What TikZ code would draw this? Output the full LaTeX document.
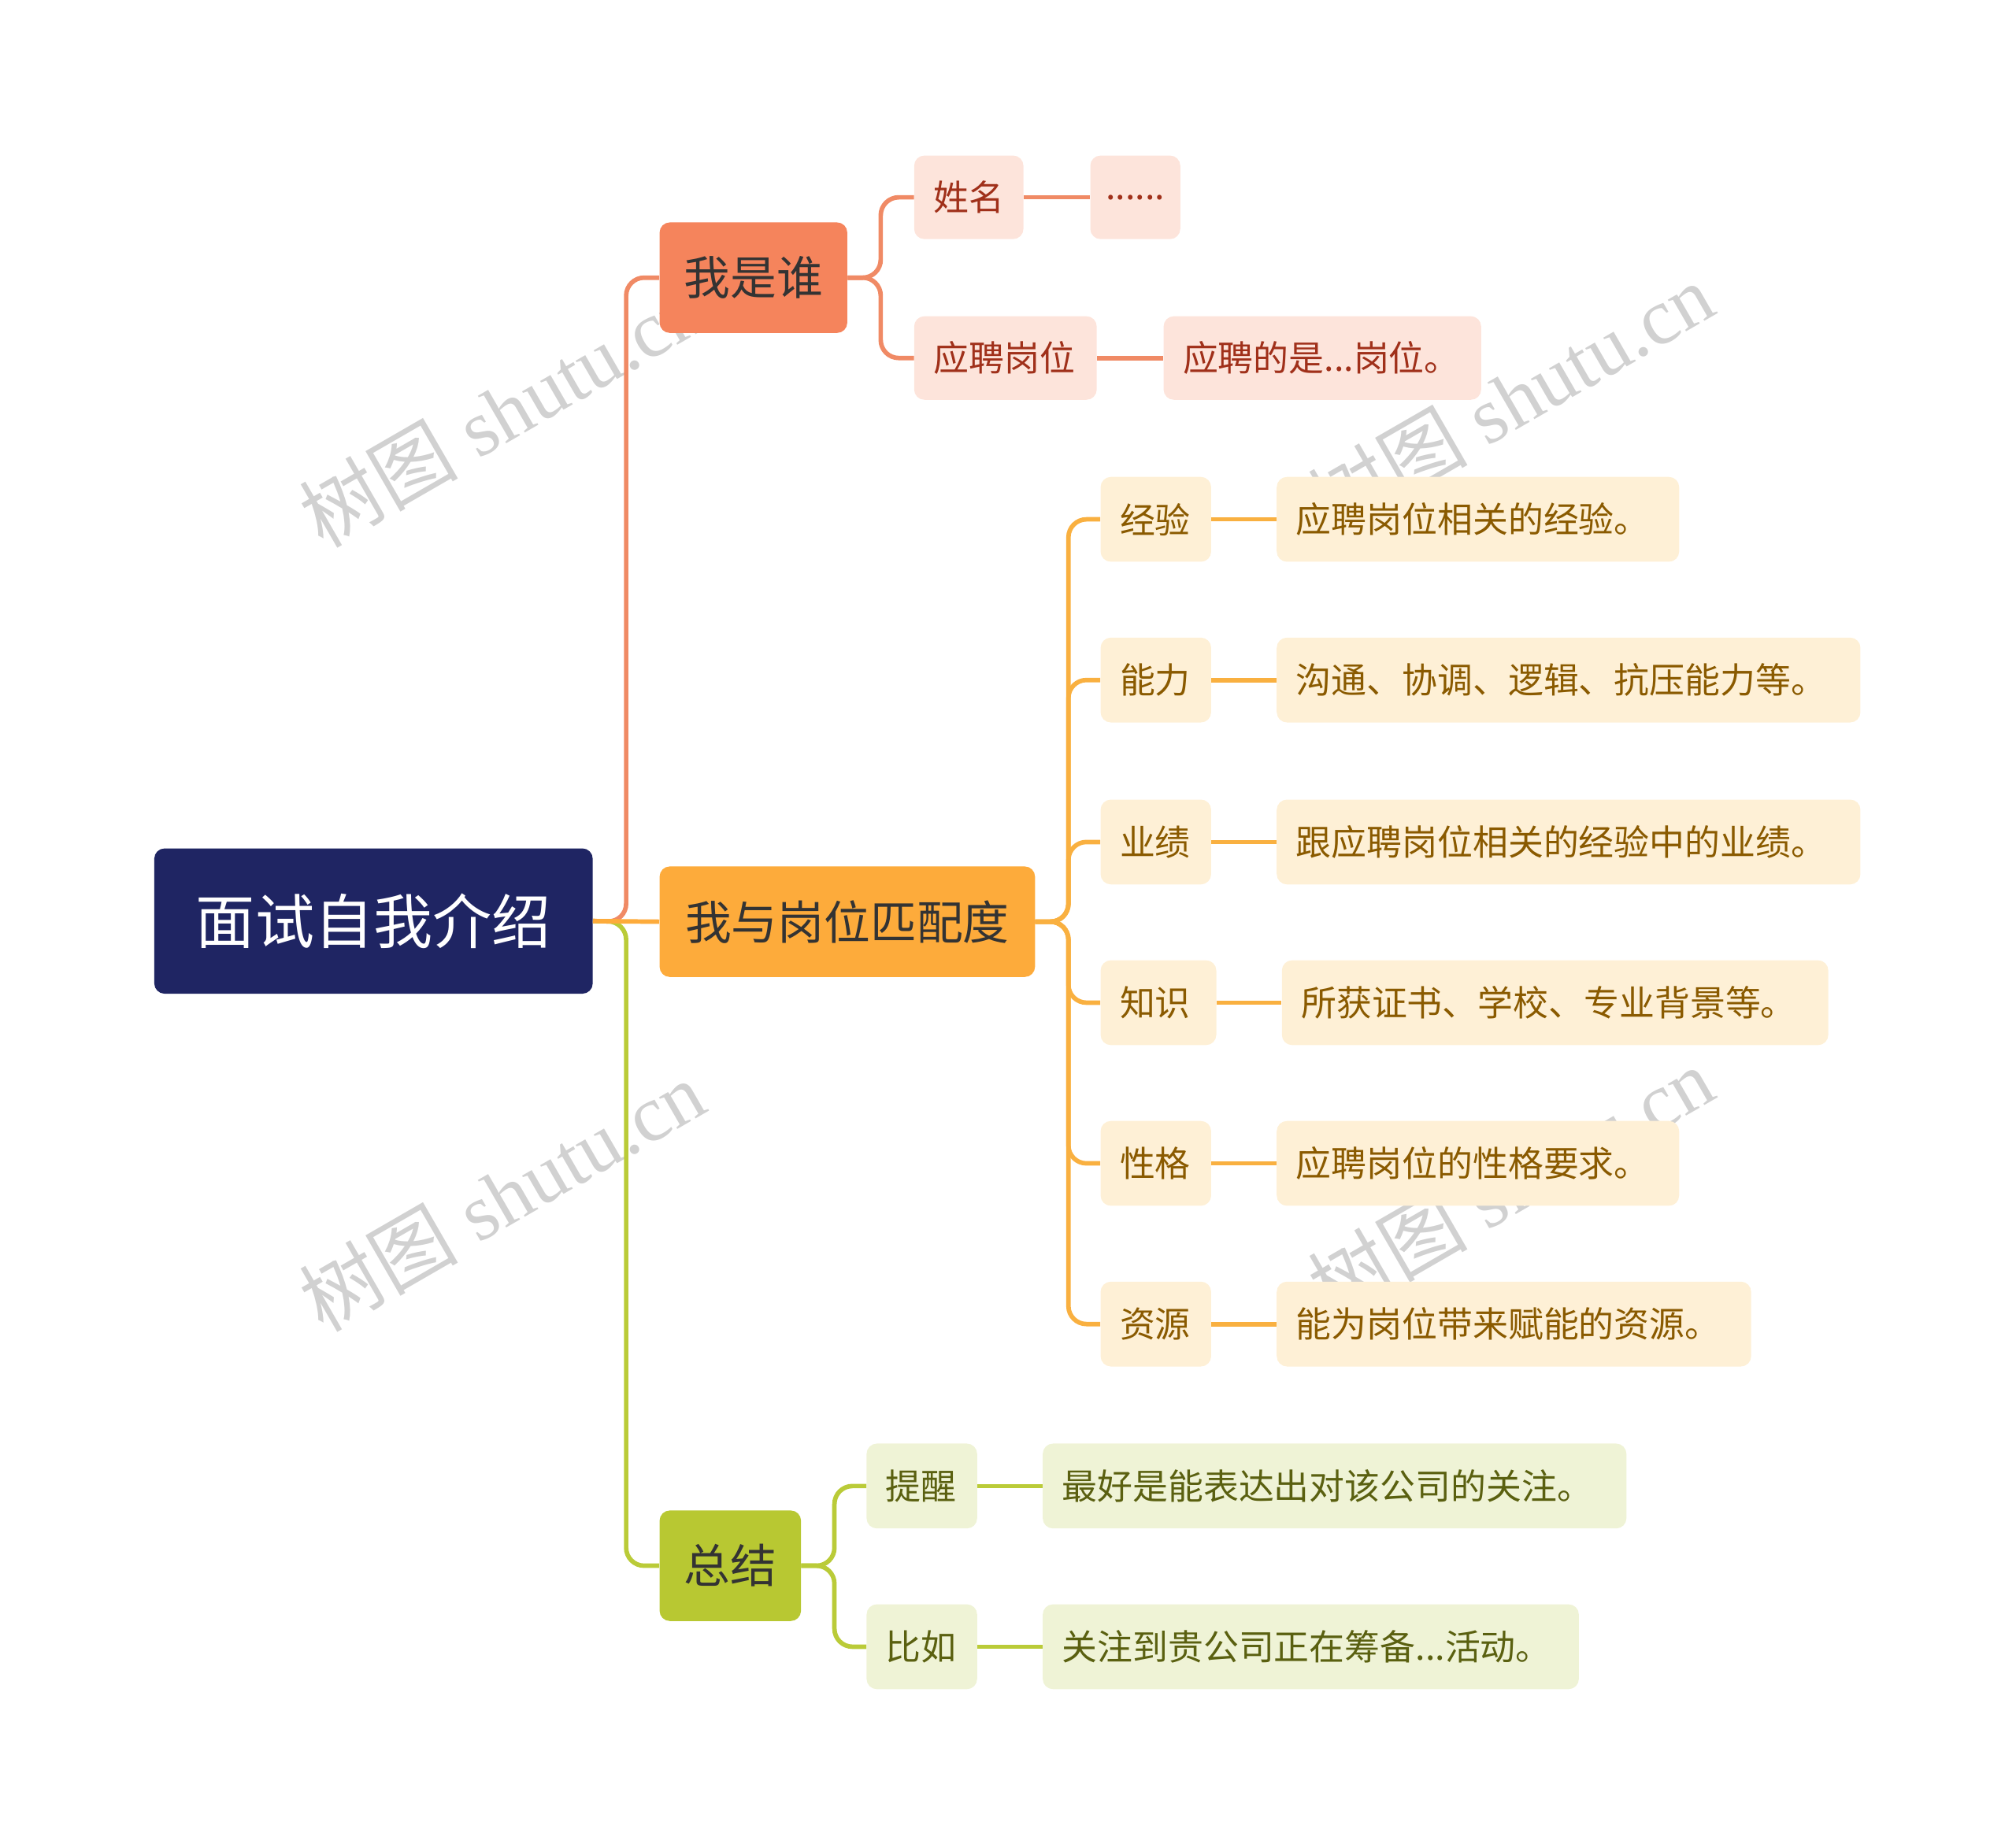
\documentclass[tikz,border=0pt]{standalone}
\usepackage{fontspec}
\setmainfont{Noto Sans CJK SC}
\newfontfamily\wmfont{Liberation Serif}
\newfontfamily\cjk{Noto Sans CJK SC}
\definecolor{rootc}{HTML}{1F2563}
\definecolor{oA}{HTML}{F5845C}\definecolor{oB}{HTML}{FDE4DB}\definecolor{oT}{HTML}{A0301A}\definecolor{oL}{HTML}{F08A65}
\definecolor{yA}{HTML}{FDAB3B}\definecolor{yB}{HTML}{FEF0D6}\definecolor{yT}{HTML}{8A5A00}\definecolor{yL}{HTML}{F9B040}
\definecolor{gA}{HTML}{B8C832}\definecolor{gB}{HTML}{EFF3D6}\definecolor{gT}{HTML}{5A6010}\definecolor{gL}{HTML}{BACB38}
\newcommand\bx[7]{\node[#6,minimum width={#4pt-#2pt},minimum height={#5pt-#3pt}] (#1) at ({(#2+#4)/2},{(#3+#5)/2}) {#7};}
\newcommand\bl[7]{\node[#6,minimum width={#4pt-#2pt},minimum height={#5pt-#3pt},text width={#4pt-#2pt-30pt},align=left] (#1) at ({(#2+#4)/2},{(#3+#5)/2}) {#7};}
\begin{document}
\begin{tikzpicture}[x=1pt,y=-1pt,
  base/.style={rounded corners=8pt,inner sep=0pt,draw=none},
  rootbox/.style={base,fill=rootc,text=white,font=\fontsize{46}{52}\selectfont},
  lo/.style={base,fill=oA,text=black!80,font=\fontsize{36}{42}\selectfont},
  ly/.style={base,fill=yA,text=black!80,font=\fontsize{36}{42}\selectfont},
  lg/.style={base,fill=gA,text=black!80,font=\fontsize{36}{42}\selectfont},
  so/.style={base,fill=oB,text=oT,font=\fontsize{27.5}{32}\selectfont},
  sy/.style={base,fill=yB,text=yT,font=\fontsize{27.5}{32}\selectfont},
  sg/.style={base,fill=gB,text=gT,font=\fontsize{27.5}{32}\selectfont},
  con/.style={line width=3.5pt,rounded corners=14pt},
  wm/.style={text=black!18,rotate=30,font=\wmfont\fontsize{62}{64}\selectfont}]
\useasboundingbox (0,0) rectangle (1568,1434);
\foreach \p in {(390,320),(1175,310),(390,930),(1175,920)}
  \node[wm] at \p {{\cjk 树图} shutu.cn};
\bx{root}{120}{660}{461}{773}{rootbox}{面试自我介绍}
\bx{a}{513}{173}{659}{259}{lo}{我是谁}
\bx{b}{513}{674}{805}{760}{ly}{我与岗位匹配度}
\bx{c}{513}{1175}{623}{1261}{lg}{总结}
\draw[con,draw=oL] (root.east) -- (487,717) |- (a.west);
\draw[con,draw=gL] (root.east) -- (487,717) |- (c.west);
\draw[con,draw=yA] (root.east) -- (b.west);
% a children
\bl{a1}{711}{121}{796}{186}{so}{姓名}
\bx{a1d}{848}{121}{918}{186}{so}{......}
\bl{a2}{711}{246}{853}{311}{so}{应聘岗位}
\bl{a2d}{905}{246}{1152}{311}{so}{应聘的是...岗位。}
\foreach \t in {a1,a2} \draw[con,draw=oL] (a.east) -- (685,216) |- (\t.west);
\draw[con,draw=oL] (a1.east) -- (a1d.west);
\draw[con,draw=oL] (a2.east) -- (a2d.west);
% b children
\bl{b1}{856}{371}{942}{437}{sy}{经验}\bl{b1d}{993}{371}{1306}{437}{sy}{应聘岗位相关的经验。}
\bl{b2}{856}{496}{942}{562}{sy}{能力}\bl{b2d}{993}{496}{1447}{562}{sy}{沟通、协调、逻辑、抗压能力等。}
\bl{b3}{856}{622}{942}{688}{sy}{业绩}\bl{b3d}{993}{622}{1447}{688}{sy}{跟应聘岗位相关的经验中的业绩。}
\bl{b4}{856}{747}{946}{813}{sy}{知识}\bl{b4d}{997}{747}{1422}{813}{sy}{所获证书、学校、专业背景等。}
\bl{b5}{856}{872}{942}{938}{sy}{性格}\bl{b5d}{993}{872}{1306}{938}{sy}{应聘岗位的性格要求。}
\bl{b6}{856}{997}{942}{1063}{sy}{资源}\bl{b6d}{993}{997}{1362}{1063}{sy}{能为岗位带来赋能的资源。}
\foreach \t in {b1,b2,b3,b4,b5,b6} {
  \draw[con,draw=yL] (b.east) -- (831,717) |- (\t.west);
  \draw[con,draw=yL] (\t.east) -- (\t d.west);}
% c children
\bl{c1}{674}{1123}{760}{1189}{sg}{提醒}\bl{c1d}{811}{1123}{1265}{1189}{sg}{最好是能表达出对该公司的关注。}
\bl{c2}{674}{1248}{760}{1314}{sg}{比如}\bl{c2d}{811}{1248}{1228}{1314}{sg}{关注到贵公司正在筹备...活动。}
\foreach \t in {c1,c2} {
  \draw[con,draw=gL] (c.east) -- (649,1218) |- (\t.west);
  \draw[con,draw=gL] (\t.east) -- (\t d.west);}
\end{tikzpicture}
\end{document}
